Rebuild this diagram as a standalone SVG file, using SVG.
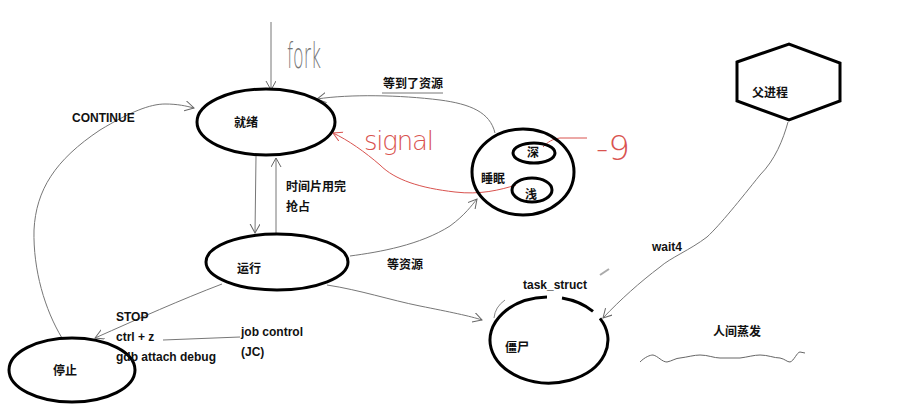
<svg xmlns="http://www.w3.org/2000/svg" width="902" height="409" viewBox="0 0 902 409">
<style>
.node{fill:none;stroke:#000;stroke-width:3}
.lbl{font-family:"Liberation Sans","Noto Sans CJK SC",sans-serif;font-weight:bold;font-size:12px;fill:#111}
.cn{fill:none;stroke:#777;stroke-width:1}
.red{fill:none;stroke:#d9534f;stroke-width:1}
.hand{font-family:"DejaVu Sans",sans-serif;font-weight:200}
</style>
<defs>
<marker id="ar" markerUnits="userSpaceOnUse" markerWidth="12" markerHeight="12" refX="9" refY="5" orient="auto">
<path d="M0,0 L9,5 L0,10" fill="none" stroke="#666" stroke-width="1"/>
</marker>
<marker id="arr" markerUnits="userSpaceOnUse" markerWidth="12" markerHeight="12" refX="9" refY="5" orient="auto">
<path d="M0,0 L9,5 L0,10" fill="none" stroke="#d9534f" stroke-width="1"/>
</marker>
</defs>
<rect width="902" height="409" fill="#fff"/>

<g id="connectors">
<path class="cn" d="M271,22 L271,90" marker-end="url(#ar)"/>
<path class="cn" d="M495,133 C490,112 470,104 440,100 C400,95 350,94 317,99" marker-end="url(#ar)"/>
<path class="cn" d="M382,93 L443,93"/>
<path class="cn" d="M256,156 L255,233" marker-end="url(#ar)"/>
<path class="cn" d="M276,233 L276,158" marker-end="url(#ar)"/>
<path class="cn" d="M350,256 C380,252 420,245 450,226 C465,215 472,205 477,199" marker-end="url(#ar)"/>
<path class="cn" d="M327,285 C360,290 390,300 420,306 C450,312 470,316 482,320" marker-end="url(#ar)"/>
<path class="cn" d="M222,284 C180,300 140,318 95,338" marker-end="url(#ar)"/>
<path class="cn" d="M163,340 L240,337"/>
<path class="cn" d="M62,338 C45,310 33,270 34,230 C36,190 55,160 100,130 C130,112 150,104 165,104 C178,104 186,106 194,108" marker-end="url(#ar)"/>
<path class="cn" d="M788,122 C783,140 775,160 760,175 C740,200 720,225 707,237 C690,250 670,258 660,267 C640,282 620,300 603,318" marker-end="url(#ar)"/>
<path class="red" d="M516,185 C500,190 480,195 455,192 C420,188 395,180 380,165 C365,152 348,140 333,133" marker-end="url(#arr)"/>
<path class="red" d="M543,147 C548,142 552,139 560,138 L587,138"/>
</g>

<g id="fork-label"><text class="hand" x="287" y="68" font-size="36" fill="#777" textLength="34" lengthAdjust="spacingAndGlyphs">fork</text></g>
<g id="signal-label"><text class="hand" x="364" y="150" font-size="26" fill="#d9534f" textLength="70" lengthAdjust="spacing">signal</text></g>
<g id="kill-label"><text class="hand" x="596" y="160" font-size="34" fill="#d9534f" textLength="34" lengthAdjust="spacingAndGlyphs">-9</text></g>

<g id="ready">
<ellipse class="node" cx="266" cy="122" rx="69" ry="33"/>
<text class="lbl" x="234" y="127">就绪</text>
</g>
<g id="running">
<ellipse class="node" cx="277" cy="262" rx="71" ry="28"/>
<text class="lbl" x="237" y="273">运行</text>
</g>
<g id="sleep">
<ellipse class="node" cx="523" cy="172" rx="51" ry="43"/>
<text class="lbl" x="481" y="183">睡眠</text>
<ellipse class="node" cx="534" cy="153" rx="21" ry="10" stroke-width="2.5"/>
<text class="lbl" x="527" y="157">深</text>
<ellipse class="node" cx="532" cy="190" rx="20" ry="12" stroke-width="2.5"/>
<text class="lbl" x="525" y="199">浅</text>
</g>
<g id="stopped">
<ellipse class="node" cx="72" cy="370" rx="63" ry="32"/>
<text class="lbl" x="53" y="375">停止</text>
</g>
<g id="zombie">
<path class="node" d="M600,318.4 A59 43 0 1 1 547,297"/>
<path class="node" d="M562,298 A59 43 0 0 1 593,311.4"/>
<path fill="none" stroke="#888" stroke-width="1" d="M505,300 Q495,307 494,318"/>
<text class="lbl" x="505" y="352">僵尸</text>
</g>
<g id="parent">
<polygon class="node" points="737,62 789,44 840,63 840,101 789,120 737,101"/>
<text class="lbl" x="752" y="97">父进程</text>
</g>

<g id="texts">
<text class="lbl" x="383" y="88">等到了资源</text>
<text class="lbl" x="286" y="191">时间片用完</text>
<text class="lbl" x="286" y="211">抢占</text>
<text class="lbl" x="387" y="269">等资源</text>
<text class="lbl" x="72" y="122">CONTINUE</text>
<text class="lbl" x="116" y="321">STOP</text>
<text class="lbl" x="116" y="341">ctrl + z</text>
<text class="lbl" x="116" y="361">gdb attach debug</text>
<text class="lbl" x="241" y="336">job control</text>
<text class="lbl" x="241" y="356">(JC)</text>
<text class="lbl" x="523" y="289">task_struct</text>
<text class="lbl" x="652" y="251">wait4</text>
<text class="lbl" x="713" y="336">人间蒸发</text>
</g>
<path fill="none" stroke="#666" stroke-width="1" d="M640,362 C645,357 650,355 653,355 C658,356 662,362 667,362 C672,361 676,358 680,358 C688,357 694,355 700,355 C708,355 714,358 720,358 L740,358 C748,357 754,355 760,355 C768,355 774,358 780,358 C785,359 787,362 790,362 C794,361 797,352 800,352 L805,353"/>
<path fill="none" stroke="#aaa" stroke-width="2" d="M600,275 L609,269"/>
</svg>
